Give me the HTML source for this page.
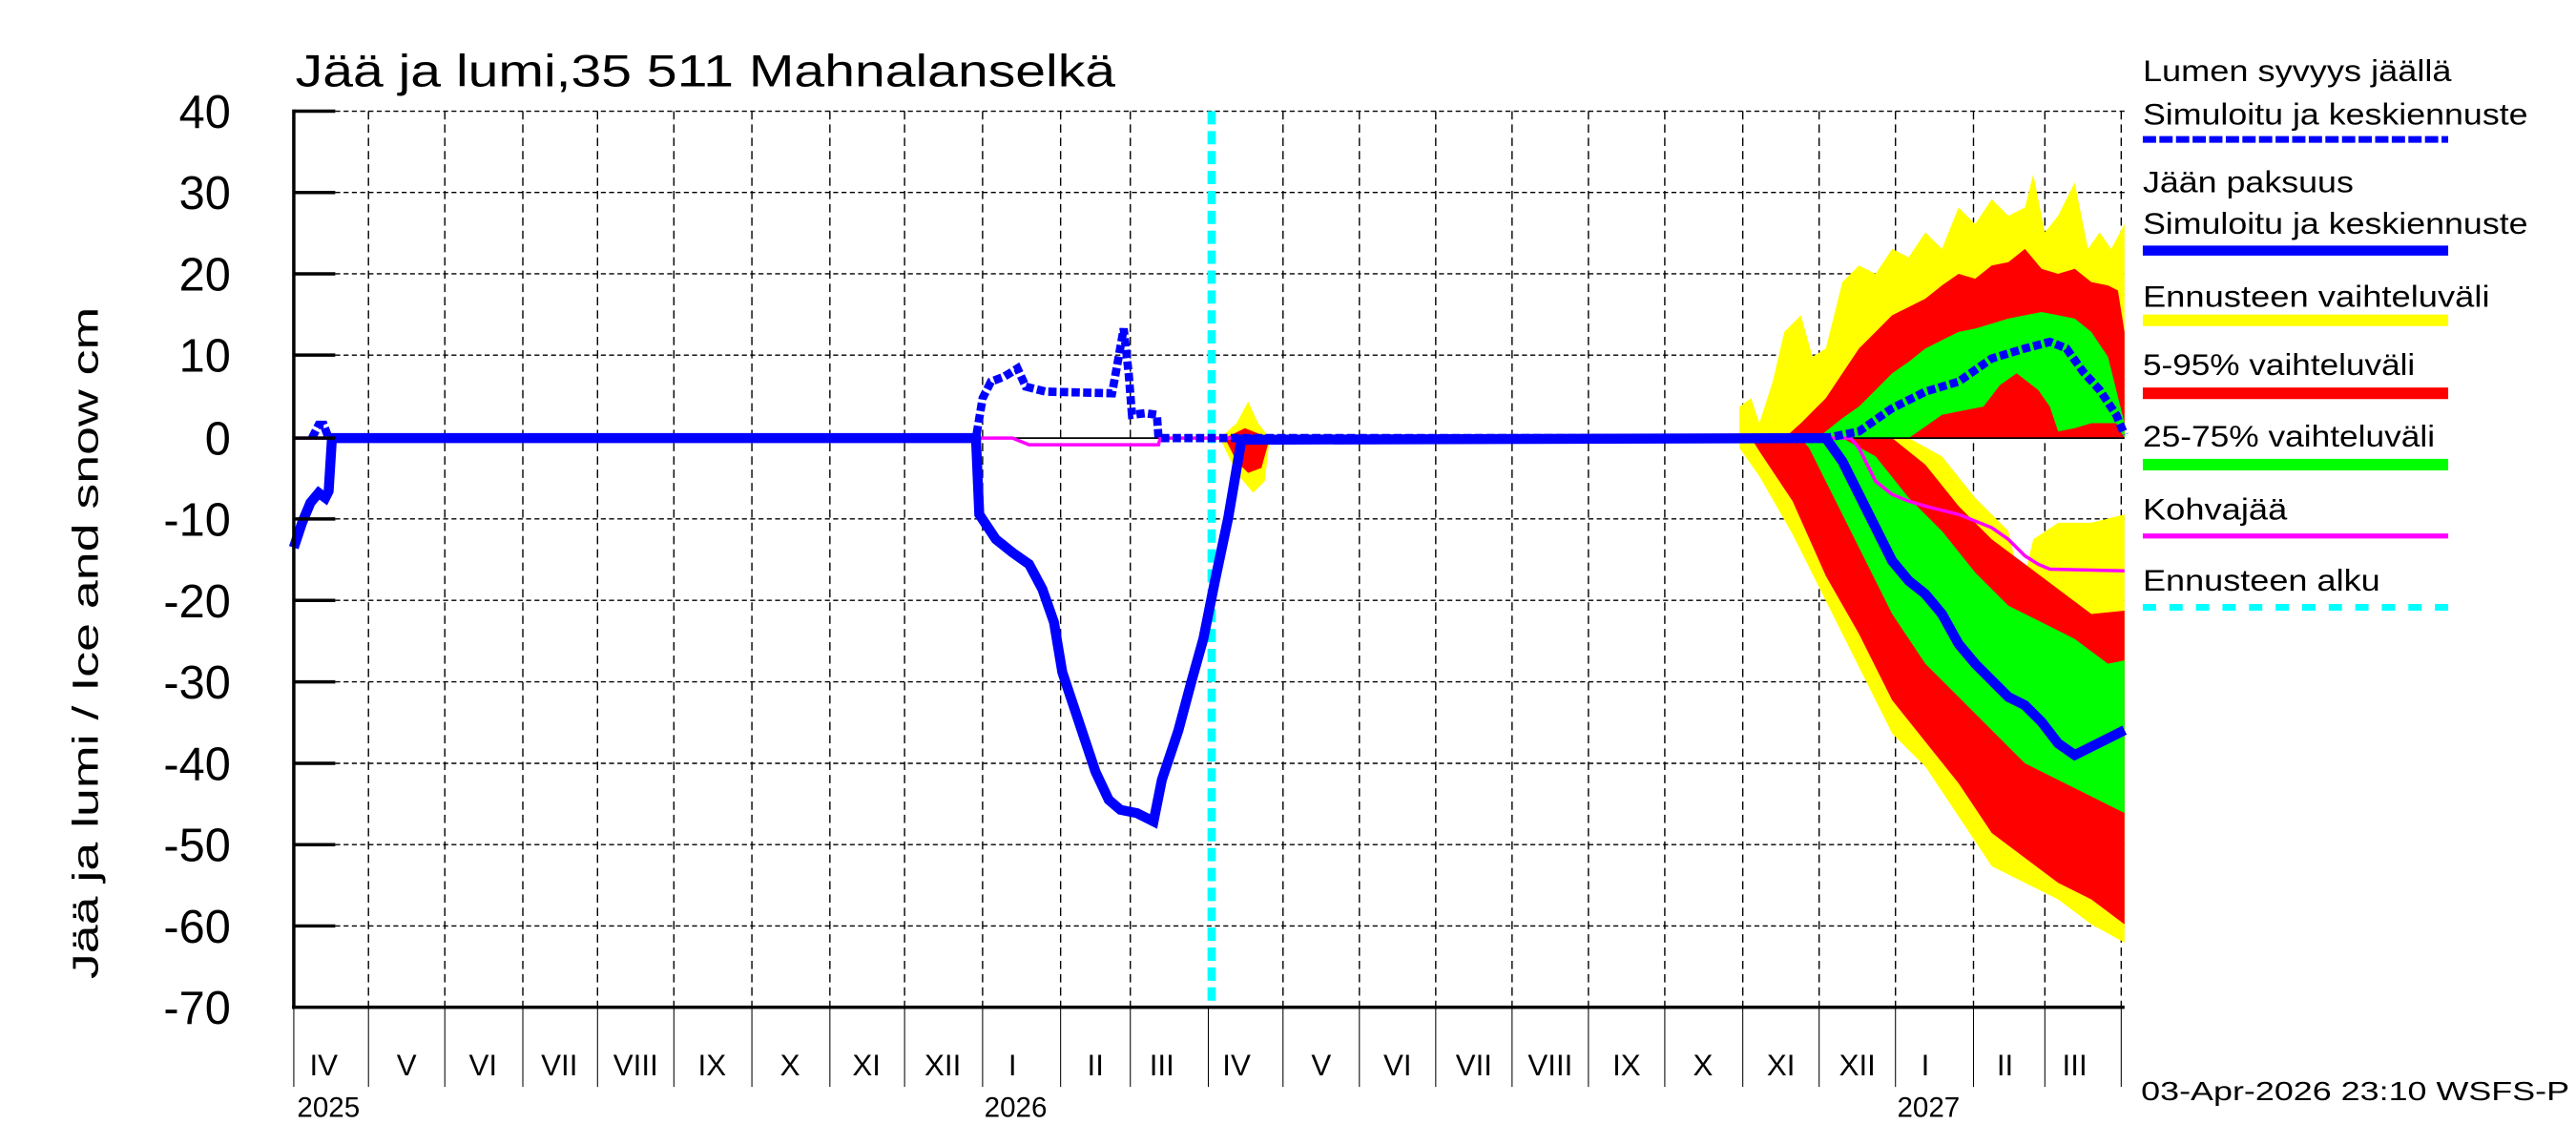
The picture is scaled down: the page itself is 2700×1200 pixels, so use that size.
<!DOCTYPE html>
<html><head><meta charset="utf-8"><style>html,body{margin:0;padding:0;background:#fff}svg{display:block}</style></head>
<body>
<svg xmlns="http://www.w3.org/2000/svg" width="2700" height="1200" viewBox="0 0 1552 690" preserveAspectRatio="none" font-family="Liberation Sans, sans-serif">
<rect width="1552" height="690" fill="#fff"/>
<g stroke="#000" stroke-width="0.8" stroke-dasharray="3,2">
<line x1="177" y1="67" x2="1280" y2="67"/><line x1="177" y1="116" x2="1280" y2="116"/><line x1="177" y1="165" x2="1280" y2="165"/><line x1="177" y1="214" x2="1280" y2="214"/><line x1="177" y1="312.7" x2="1280" y2="312.7"/><line x1="177" y1="361.8" x2="1280" y2="361.8"/><line x1="177" y1="410.9" x2="1280" y2="410.9"/><line x1="177" y1="460" x2="1280" y2="460"/><line x1="177" y1="509" x2="1280" y2="509"/><line x1="177" y1="558" x2="1280" y2="558"/>
</g>
<g stroke="#000" stroke-width="0.8" stroke-dasharray="5,3">
<line x1="222" y1="67" x2="222" y2="607"/><line x1="268" y1="67" x2="268" y2="607"/><line x1="315" y1="67" x2="315" y2="607"/><line x1="360" y1="67" x2="360" y2="607"/><line x1="406" y1="67" x2="406" y2="607"/><line x1="453" y1="67" x2="453" y2="607"/><line x1="500" y1="67" x2="500" y2="607"/><line x1="545" y1="67" x2="545" y2="607"/><line x1="592" y1="67" x2="592" y2="607"/><line x1="639" y1="67" x2="639" y2="607"/><line x1="681" y1="67" x2="681" y2="607"/><line x1="773" y1="67" x2="773" y2="607"/><line x1="819" y1="67" x2="819" y2="607"/><line x1="865" y1="67" x2="865" y2="607"/><line x1="911" y1="67" x2="911" y2="607"/><line x1="957" y1="67" x2="957" y2="607"/><line x1="1003" y1="67" x2="1003" y2="607"/><line x1="1050" y1="67" x2="1050" y2="607"/><line x1="1096" y1="67" x2="1096" y2="607"/><line x1="1142" y1="67" x2="1142" y2="607"/><line x1="1189" y1="67" x2="1189" y2="607"/><line x1="1232" y1="67" x2="1232" y2="607"/><line x1="1278" y1="67" x2="1278" y2="607"/>
</g>
<polygon fill="#ff0" points="1048,264 1048,245 1055,240 1060,255 1068,230 1075,200 1085,190 1092,215 1100,210 1110,170 1120,160 1130,165 1140,150 1150,155 1160,140 1170,150 1180,125 1190,135 1200,120 1210,130 1220,125 1225,105 1232,140 1240,130 1250,110 1258,150 1265,140 1272,150 1280,135 1280,264"/>
<polygon fill="#f00" points="1075,264 1085,255 1100,240 1110,225 1120,210 1130,200 1140,190 1150,185 1160,180 1170,172 1180,165 1190,168 1200,160 1210,158 1220,150 1230,162 1240,165 1250,162 1260,170 1270,172 1276,175 1280,200 1280,264"/>
<polygon fill="#0f0" points="1095,264 1100,260 1110,252 1120,245 1130,235 1140,225 1150,218 1160,210 1170,205 1180,200 1190,198 1200,195 1210,192 1220,190 1230,188 1240,190 1250,192 1260,200 1270,215 1280,255 1280,264 1275,255 1260,255 1250,258 1240,260 1235,245 1228,235 1215,225 1205,232 1195,245 1180,248 1170,250 1160,257 1150,264"/>
<polygon fill="#ff0" points="1048,264 1150,264 1170,275 1190,300 1210,320 1218,355 1225,325 1240,315 1260,315 1280,310 1280,568 1260,557 1240,542 1220,532 1200,522 1180,492 1160,462 1140,442 1120,402 1100,362 1080,322 1060,287 1048,270"/>
<polygon fill="#f00" points="1055,264 1140,264 1160,280 1180,305 1200,325 1220,340 1240,355 1260,370 1280,368 1280,557 1260,542 1240,532 1220,517 1200,502 1180,472 1160,447 1140,422 1120,382 1100,347 1080,302 1060,272"/>
<polygon fill="#0f0" points="1085,264 1110,264 1130,275 1150,300 1170,320 1190,345 1210,365 1230,375 1250,385 1270,400 1280,398 1280,490 1260,480 1240,470 1220,460 1200,440 1180,420 1160,400 1140,370 1120,330 1100,290 1090,270"/>
<polygon fill="#ff0" points="735,264 745,255 752,242 758,255 765,264 762,290 755,297 745,285"/>
<polygon fill="#f00" points="738,264 750,258 760,262 765,264 760,282 752,285 745,278"/>
<line x1="177" y1="264" x2="1280" y2="264" stroke="#000" stroke-width="1"/>
<line x1="730" y1="67" x2="730" y2="607" stroke="#0ff" stroke-width="5" stroke-dasharray="8,4"/>
<polyline fill="none" stroke="#f0f" stroke-width="2" points="177,264 610,264 620,268 698,268 699,264 1115,264 1120,270 1125,280 1130,290 1140,298 1150,302 1160,305 1180,310 1200,318 1210,325 1220,335 1228,340 1235,343 1280,344"/>
<polyline fill="none" stroke="#00f" stroke-width="6" points="177,330 182,315 187,303 192,297 196,300 198,296 200,264 588,264 590,310 600,325 610,333 620,340 628,355 635,375 640,405 650,435 660,465 668,482 675,488 685,490 695,495 700,470 710,440 718,410 725,385 732,350 740,312 748,265 1100,264 1110,278 1120,298 1130,318 1140,338 1150,350 1160,358 1170,370 1180,388 1190,400 1200,410 1210,420 1220,425 1230,435 1240,448 1250,455 1260,450 1270,445 1280,440"/>
<polyline fill="none" stroke="#00f" stroke-width="5" stroke-dasharray="5,2" points="188,264 192,256 195,256 198,264 588,264 592,240 597,230 605,227 613,222 618,233 630,236 670,237 674,215 677,198 680,225 682,250 690,249 697,250 698,264 1100,264 1120,260 1140,246 1160,236 1180,230 1200,216 1220,210 1235,206 1245,210 1255,224 1265,235 1275,250 1280,262"/>
<line x1="177" y1="66" x2="177" y2="608" stroke="#000" stroke-width="2"/>
<line x1="176" y1="607" x2="1280" y2="607" stroke="#000" stroke-width="2"/>
<g stroke="#000" stroke-width="2">
<line x1="177" y1="67" x2="202" y2="67"/><line x1="177" y1="116" x2="202" y2="116"/><line x1="177" y1="165" x2="202" y2="165"/><line x1="177" y1="214" x2="202" y2="214"/><line x1="177" y1="264" x2="202" y2="264"/><line x1="177" y1="312.7" x2="202" y2="312.7"/><line x1="177" y1="361.8" x2="202" y2="361.8"/><line x1="177" y1="410.9" x2="202" y2="410.9"/><line x1="177" y1="460" x2="202" y2="460"/><line x1="177" y1="509" x2="202" y2="509"/><line x1="177" y1="558" x2="202" y2="558"/>
</g>
<g stroke="#000" stroke-width="0.6">
<line x1="177" y1="607" x2="177" y2="655"/><line x1="222" y1="607" x2="222" y2="655"/><line x1="268" y1="607" x2="268" y2="655"/><line x1="315" y1="607" x2="315" y2="655"/><line x1="360" y1="607" x2="360" y2="655"/><line x1="406" y1="607" x2="406" y2="655"/><line x1="453" y1="607" x2="453" y2="655"/><line x1="500" y1="607" x2="500" y2="655"/><line x1="545" y1="607" x2="545" y2="655"/><line x1="592" y1="607" x2="592" y2="655"/><line x1="639" y1="607" x2="639" y2="655"/><line x1="681" y1="607" x2="681" y2="655"/><line x1="728" y1="607" x2="728" y2="655"/><line x1="773" y1="607" x2="773" y2="655"/><line x1="819" y1="607" x2="819" y2="655"/><line x1="865" y1="607" x2="865" y2="655"/><line x1="911" y1="607" x2="911" y2="655"/><line x1="957" y1="607" x2="957" y2="655"/><line x1="1003" y1="607" x2="1003" y2="655"/><line x1="1050" y1="607" x2="1050" y2="655"/><line x1="1096" y1="607" x2="1096" y2="655"/><line x1="1142" y1="607" x2="1142" y2="655"/><line x1="1189" y1="607" x2="1189" y2="655"/><line x1="1232" y1="607" x2="1232" y2="655"/><line x1="1278" y1="607" x2="1278" y2="655"/>
</g>
<g font-size="28" text-anchor="end" fill="#000">
<text x="139" y="77">40</text><text x="139" y="126">30</text><text x="139" y="175">20</text><text x="139" y="224">10</text><text x="139" y="274">0</text><text x="139" y="323">-10</text><text x="139" y="372">-20</text><text x="139" y="421">-30</text><text x="139" y="470">-40</text><text x="139" y="519">-50</text><text x="139" y="568">-60</text><text x="139" y="617">-70</text>
</g>
<text transform="translate(59,590) rotate(-90)" font-size="22" textLength="405" lengthAdjust="spacingAndGlyphs">Jää ja lumi / Ice and snow    cm</text>
<text x="178" y="52" font-size="27" textLength="494" lengthAdjust="spacingAndGlyphs">Jää ja lumi,35 511 Mahnalanselkä</text>
<g font-size="18" text-anchor="middle">
<text x="195" y="648">IV</text><text x="245" y="648">V</text><text x="291" y="648">VI</text><text x="337" y="648">VII</text><text x="383" y="648">VIII</text><text x="429" y="648">IX</text><text x="476" y="648">X</text><text x="522" y="648">XI</text><text x="568" y="648">XII</text><text x="610" y="648">I</text><text x="660" y="648">II</text><text x="700" y="648">III</text><text x="745" y="648">IV</text><text x="796" y="648">V</text><text x="842" y="648">VI</text><text x="888" y="648">VII</text><text x="934" y="648">VIII</text><text x="980" y="648">IX</text><text x="1026" y="648">X</text><text x="1073" y="648">XI</text><text x="1119" y="648">XII</text><text x="1160" y="648">I</text><text x="1208" y="648">II</text><text x="1250" y="648">III</text>
</g>
<g font-size="17"><text x="179" y="673">2025</text><text x="593" y="673">2026</text><text x="1143" y="673">2027</text></g>
<text x="1290" y="663" font-size="16" textLength="258" lengthAdjust="spacingAndGlyphs">03-Apr-2026 23:10 WSFS-P</text>
<g font-size="18">
<text x="1291" y="49" textLength="186" lengthAdjust="spacingAndGlyphs">Lumen syvyys jäällä</text>
<text x="1291" y="75" textLength="232" lengthAdjust="spacingAndGlyphs">Simuloitu ja keskiennuste</text>
<text x="1291" y="116" textLength="127" lengthAdjust="spacingAndGlyphs">Jään paksuus</text>
<text x="1291" y="141" textLength="232" lengthAdjust="spacingAndGlyphs">Simuloitu ja keskiennuste</text>
<text x="1291" y="185" textLength="209" lengthAdjust="spacingAndGlyphs">Ennusteen vaihteluväli</text>
<text x="1291" y="226" textLength="164" lengthAdjust="spacingAndGlyphs">5-95% vaihteluväli</text>
<text x="1291" y="269" textLength="176" lengthAdjust="spacingAndGlyphs">25-75% vaihteluväli</text>
<text x="1291" y="313" textLength="87" lengthAdjust="spacingAndGlyphs">Kohvajää</text>
<text x="1291" y="356" textLength="143" lengthAdjust="spacingAndGlyphs">Ennusteen alku</text>
</g>
<line x1="1291" y1="84" x2="1475" y2="84" stroke="#00f" stroke-width="4" stroke-dasharray="8,2"/>
<line x1="1291" y1="151" x2="1475" y2="151" stroke="#00f" stroke-width="6"/>
<line x1="1291" y1="193" x2="1475" y2="193" stroke="#ff0" stroke-width="7"/>
<line x1="1291" y1="237" x2="1475" y2="237" stroke="#f00" stroke-width="7"/>
<line x1="1291" y1="280" x2="1475" y2="280" stroke="#0f0" stroke-width="7"/>
<line x1="1291" y1="323" x2="1475" y2="323" stroke="#f0f" stroke-width="3"/>
<line x1="1291" y1="366" x2="1475" y2="366" stroke="#0ff" stroke-width="4" stroke-dasharray="8,8"/>
</svg>
</body></html>
